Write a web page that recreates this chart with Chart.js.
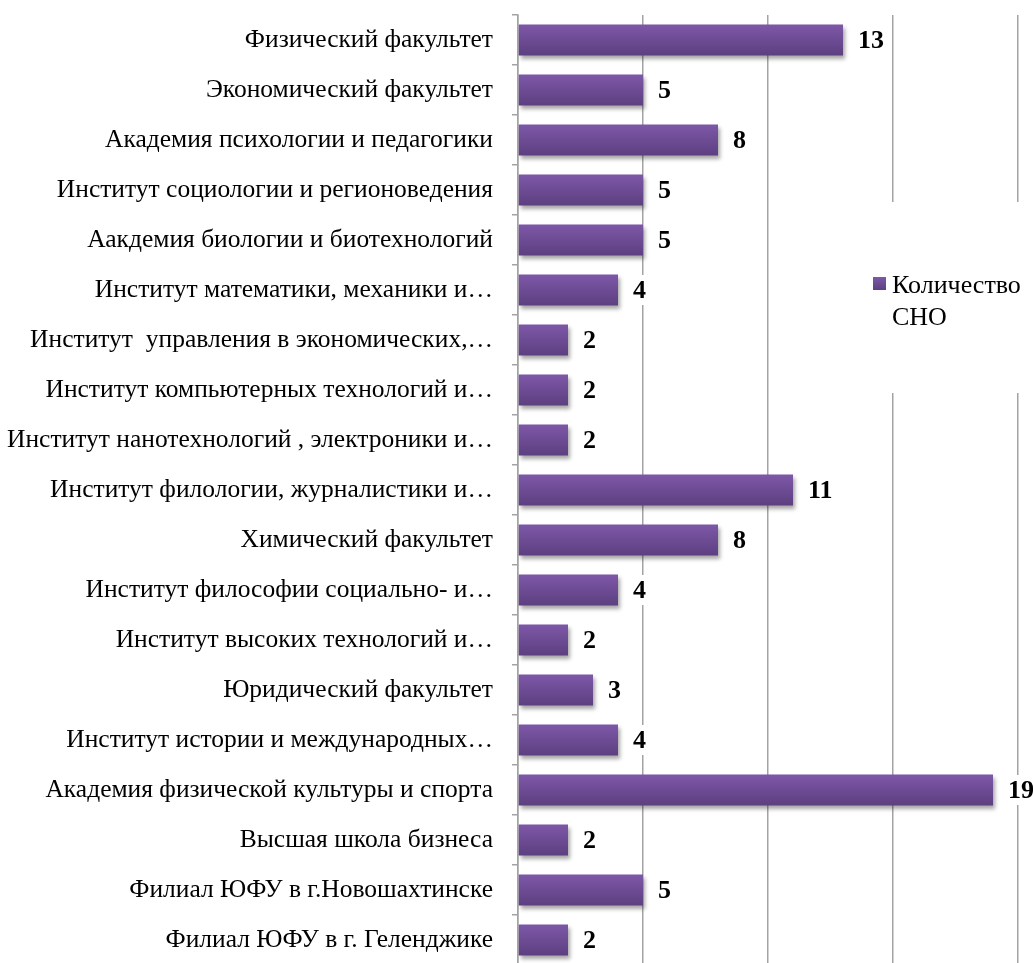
<!DOCTYPE html>
<html>
<head>
<meta charset="utf-8">
<script src="https://cdn.jsdelivr.net/npm/chart.js@4.4.1/dist/chart.umd.min.js"></script>
<style>
  html, body { margin: 0; padding: 0; background: #fff; overflow: hidden; }
  #wrap { width: 1033px; height: 990px; }
</style>
</head>
<body>
<div id="wrap"><canvas id="myChart" width="1033" height="990"></canvas></div>
<script>
// categories, top to bottom
const labels = [
    'Физический факультет',
    'Экономический факультет',
    'Академия психологии и педагогики',
    'Институт социологии и регионоведения',
    'Аакдемия биологии и биотехнологий',
    'Институт математики, механики и…',
    'Институт  управления в экономических,…',
    'Институт компьютерных технологий и…',
    'Институт нанотехнологий , электроники и…',
    'Институт филологии, журналистики и…',
    'Химический факультет',
    'Институт философии социально- и…',
    'Институт высоких технологий и…',
    'Юридический факультет',
    'Институт истории и международных…',
    'Академия физической культуры и спорта',
    'Высшая школа бизнеса',
    'Филиал ЮФУ в г.Новошахтинске',
    'Филиал ЮФУ в г. Геленджике'
]
const values = [13, 5, 8, 5, 5, 4, 2, 2, 2, 11, 8, 4, 2, 3, 4, 19, 2, 5, 2]
const seriesName = ['Количество', 'СНО']
const xMax = 20
const xStep = 5

const gridColor = '#a3a3a3'
const topPurple = '#7e58a8'
const bottomPurple = '#5d3f80'
const serif = '"Liberation Serif", "Times New Roman", serif'

function purpleGradient(ctx, y0, y1) {
    const g = ctx.createLinearGradient(0, y0, 0, y1)
    g.addColorStop(0, topPurple)
    g.addColorStop(1, bottomPurple)
    return g
}

// gradient + shadow on bars, white legend box over the grid
const barStyle = {
    id: 'barStyle',
    beforeDatasetsDraw(chart) {
        const ctx = chart.ctx
        const meta = chart.getDatasetMeta(0)
        meta.data.forEach(bar => {
            const h = bar.height
            bar.options = Object.assign({}, bar.options, {
                backgroundColor: purpleGradient(ctx, bar.y - h / 2, bar.y + h / 2)
            })
        })
        // legend
        ctx.save()
        ctx.fillStyle = '#fff'
        ctx.fillRect(858, 202, 175, 191)
        ctx.fillStyle = purpleGradient(ctx, 277, 290)
        ctx.fillRect(873, 277, 13, 13)
        ctx.fillStyle = '#000'
        ctx.font = '26px ' + serif
        ctx.textBaseline = 'middle'
        ctx.textAlign = 'left'
        ctx.fillText(seriesName[0], 892, 286)
        ctx.fillText(seriesName[1], 892, 318)
        ctx.restore()
        ctx.save()
        ctx.shadowColor = 'rgba(0,0,0,0.35)'
        ctx.shadowBlur = 4
        ctx.shadowOffsetX = 2
        ctx.shadowOffsetY = 3
    },
    afterDatasetsDraw(chart) {
        const ctx = chart.ctx
        ctx.restore()
        // value labels
        const meta = chart.getDatasetMeta(0)
        ctx.save()
        ctx.font = 'bold 26px ' + serif
        ctx.textBaseline = 'middle'
        ctx.textAlign = 'left'
        meta.data.forEach((bar, i) => {
            const txt = String(values[i])
            const w = ctx.measureText(txt).width
            const x = bar.x + 15
            ctx.fillStyle = '#fff'
            ctx.fillRect(x - 3, bar.y - 15, w + 6, 30)
            ctx.fillStyle = '#000'
            ctx.fillText(txt, x, bar.y + 1)
        })
        ctx.restore()
    }
}

new Chart(document.getElementById('myChart'), {
    type: 'bar',
    data: {
        labels: labels,
        datasets: [{
            label: seriesName.join(' '),
            data: values,
            backgroundColor: topPurple,
            barPercentage: 0.62,
            categoryPercentage: 1
        }]
    },
    options: {
        indexAxis: 'y',
        responsive: false,
        animation: false,
        layout: { padding: { left: 0, top: 15, right: 15, bottom: 25 } },
        plugins: {
            legend: { display: false },
            tooltip: { enabled: false }
        },
        scales: {
            x: {
                min: 0,
                max: xMax,
                ticks: { display: false, stepSize: xStep },
                grid: { color: gridColor, lineWidth: 1.5, drawTicks: false },
                border: { display: false }
            },
            y: {
                afterFit(scale) {
                    scale.width = 518
                    scale.paddingTop = 0
                    scale.paddingBottom = 0
                },
                ticks: {
                    color: '#000',
                    padding: 19,
                    autoSkip: false,
                    font: { family: serif, size: 25.5 }
                },
                grid: {
                    color: gridColor,
                    lineWidth: 1.5,
                    drawOnChartArea: false,
                    drawTicks: true,
                    tickLength: 6,
                    offset: true
                },
                border: { display: true, color: gridColor, width: 1.5 }
            }
        }
    },
    plugins: [barStyle]
})
</script>
</body>
</html>
